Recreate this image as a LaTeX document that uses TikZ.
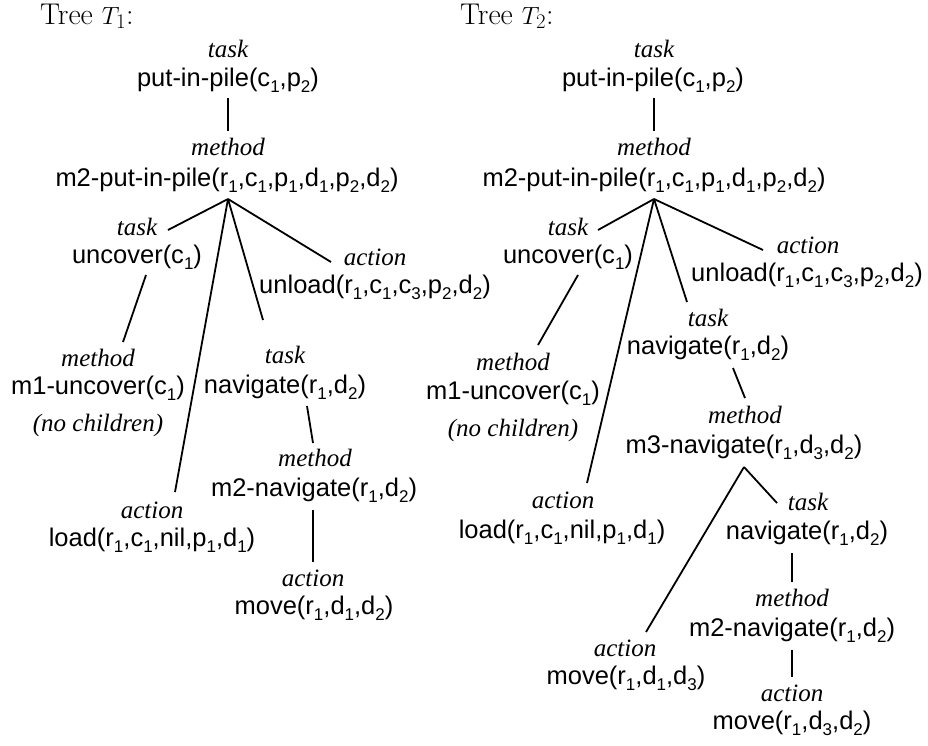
\documentclass[tikz,border=0pt]{standalone}
\usepackage{fontspec}
\usepackage{tikz}
\usetikzlibrary{calc}
\newfontfamily\sansf{Liberation Sans}
\newfontfamily\serf{Liberation Serif}
\newcommand{\idx}[1]{\raisebox{-0.23em}{\fontsize{17}{17}\selectfont #1}}
\tikzstyle{nm} = [font = \sansf\fontsize{25.5}{30}\selectfont, inner sep = 0pt]
\tikzstyle{ty} = [font = \serf\itshape\fontsize{25}{30}\selectfont, inner sep = 0pt]
\tikzstyle{edge} = [line width = 1.8pt]
\tikzstyle{ttl} = [font = \fontsize{30}{34}\selectfont, inner sep = 0pt, anchor = base west]

\begin{document}
\begin{tikzpicture}[x = 1pt, y = -1pt]
		\useasboundingbox (0, 0) rectangle (928, 745);
		% Заголовки
		\node[ttl] (ttlA) at (40, 24) {Tree $T_1$:};
		\node[ttl] (ttlB) at (460, 24) {Tree $T_2$:};
		% Дерево T1
		\node[ty] (putAt) at (228, 49) {task};
		\node[nm] (putA) at (228, 80) {put-in-pile(c\idx1,p\idx2)};
		\node[ty] (mpAt) at (228, 147) {method};
		\node[nm] (mpA) at (227, 180) {m2-put-in-pile(r\idx1,c\idx1,p\idx1,d\idx1,p\idx2,d\idx2)};
		\node[ty] (unAt) at (137, 227) {task};
		\node[nm] (unA) at (137, 257) {uncover(c\idx1)};
		\node[ty] (ulAt) at (375, 257) {action};
		\node[nm] (ulA) at (375, 287) {unload(r\idx1,c\idx1,c\idx3,p\idx2,d\idx2)};
		\node[ty] (m1At) at (98, 358) {method};
		\node[nm] (m1A) at (98, 388) {m1-uncover(c\idx1)};
		\node[ty] (ncA) at (98, 425) {(no children)};
		\node[ty] (nvAt) at (285, 355) {task};
		\node[nm] (nvA) at (285, 387) {navigate(r\idx1,d\idx2)};
		\node[ty] (m2nAt) at (315, 458) {method};
		\node[nm] (m2nA) at (314, 490) {m2-navigate(r\idx1,d\idx2)};
		\node[ty] (ldAt) at (152, 510) {action};
		\node[nm] (ldA) at (152, 540) {load(r\idx1,c\idx1,nil,p\idx1,d\idx1)};
		\node[ty] (mvAt) at (313, 578) {action};
		\node[nm] (mvA) at (314, 608) {move(r\idx1,d\idx1,d\idx2)};
		\coordinate (fA) at ($(mpA) + (1, 19)$);
		\draw[edge] ($(putA) + (0, 18)$) -- ($(mpAt) + (0, -16)$);
		\draw[edge] (fA) -- ($(unAt) + (31, 3)$);
		\draw[edge] (fA) -- ($(ulAt) + (-44, 5)$);
		\draw[edge] (fA) -- ($(nvAt) + (-22, -35)$);
		\draw[edge] (fA) -- ($(ldAt) + (23, -18)$);
		\draw[edge] ($(unA) + (9, 18)$) -- ($(m1At) + (25, -16)$);
		\draw[edge] ($(nvA) + (22, 19)$) -- ($(m2nAt) + (-2, -15)$);
		\draw[edge] ($(m2nA) + (-1, 20)$) -- ($(mvAt) + (0, -16)$);
		% Дерево T2
		\node[ty] (putBt) at (654, 49) {task};
		\node[nm] (putB) at (653, 80) {put-in-pile(c\idx1,p\idx2)};
		\node[ty] (mpBt) at (654, 147) {method};
		\node[nm] (mpB) at (654, 180) {m2-put-in-pile(r\idx1,c\idx1,p\idx1,d\idx1,p\idx2,d\idx2)};
		\node[ty] (unBt) at (568, 227) {task};
		\node[nm] (unB) at (568, 257) {uncover(c\idx1)};
		\node[ty] (ulBt) at (808, 245) {action};
		\node[nm] (ulB) at (807, 275) {unload(r\idx1,c\idx1,c\idx3,p\idx2,d\idx2)};
		\node[ty] (nvBt) at (708, 318) {task};
		\node[nm] (nvB) at (708, 348) {navigate(r\idx1,d\idx2)};
		\node[ty] (m1Bt) at (513, 362) {method};
		\node[nm] (m1B) at (513, 393) {m1-uncover(c\idx1)};
		\node[ty] (ncB) at (513, 430) {(no children)};
		\node[ty] (m3Bt) at (745, 415) {method};
		\node[nm] (m3B) at (744, 447) {m3-navigate(r\idx1,d\idx3,d\idx2)};
		\node[ty] (ldBt) at (563, 500) {action};
		\node[nm] (ldB) at (562, 532) {load(r\idx1,c\idx1,nil,p\idx1,d\idx1)};
		\node[ty] (nv2Bt) at (808, 502) {task};
		\node[nm] (nv2B) at (807, 533) {navigate(r\idx1,d\idx2)};
		\node[ty] (m2nBt) at (792, 598) {method};
		\node[nm] (m2nB) at (792, 630) {m2-navigate(r\idx1,d\idx2)};
		\node[ty] (mv1Bt) at (625, 648) {action};
		\node[nm] (mv1B) at (626, 678) {move(r\idx1,d\idx1,d\idx3)};
		\node[ty] (mv2Bt) at (792, 693) {action};
		\node[nm] (mv2B) at (792, 723) {move(r\idx1,d\idx3,d\idx2)};
		\coordinate (fB) at ($(mpB) + (0, 19)$);
		\coordinate (gB) at ($(m3B) + (0, 20)$);
		\draw[edge] ($(putB) + (1, 18)$) -- ($(mpBt) + (0, -16)$);
		\draw[edge] (fB) -- ($(unBt) + (30, 3)$);
		\draw[edge] (fB) -- ($(ulBt) + (-45, 5)$);
		\draw[edge] (fB) -- ($(nvBt) + (-21, -16)$);
		\draw[edge] (fB) -- ($(ldBt) + (24, -17)$);
		\draw[edge] ($(unB) + (10, 18)$) -- ($(m1Bt) + (25, -17)$);
		\draw[edge] ($(nvB) + (25, 20)$) -- ($(m3Bt) + (0, -17)$);
		\draw[edge] (gB) -- ($(nv2Bt) + (-31, 1)$);
		\draw[edge] (gB) -- ($(mv1Bt) + (21, -16)$);
		\draw[edge] ($(nv2B) + (-15, 20)$) -- ($(m2nBt) + (0, -16)$);
		\draw[edge] ($(m2nB) + (0, 20)$) -- ($(mv2Bt) + (0, -16)$);
	\end{tikzpicture}
\end{document}
